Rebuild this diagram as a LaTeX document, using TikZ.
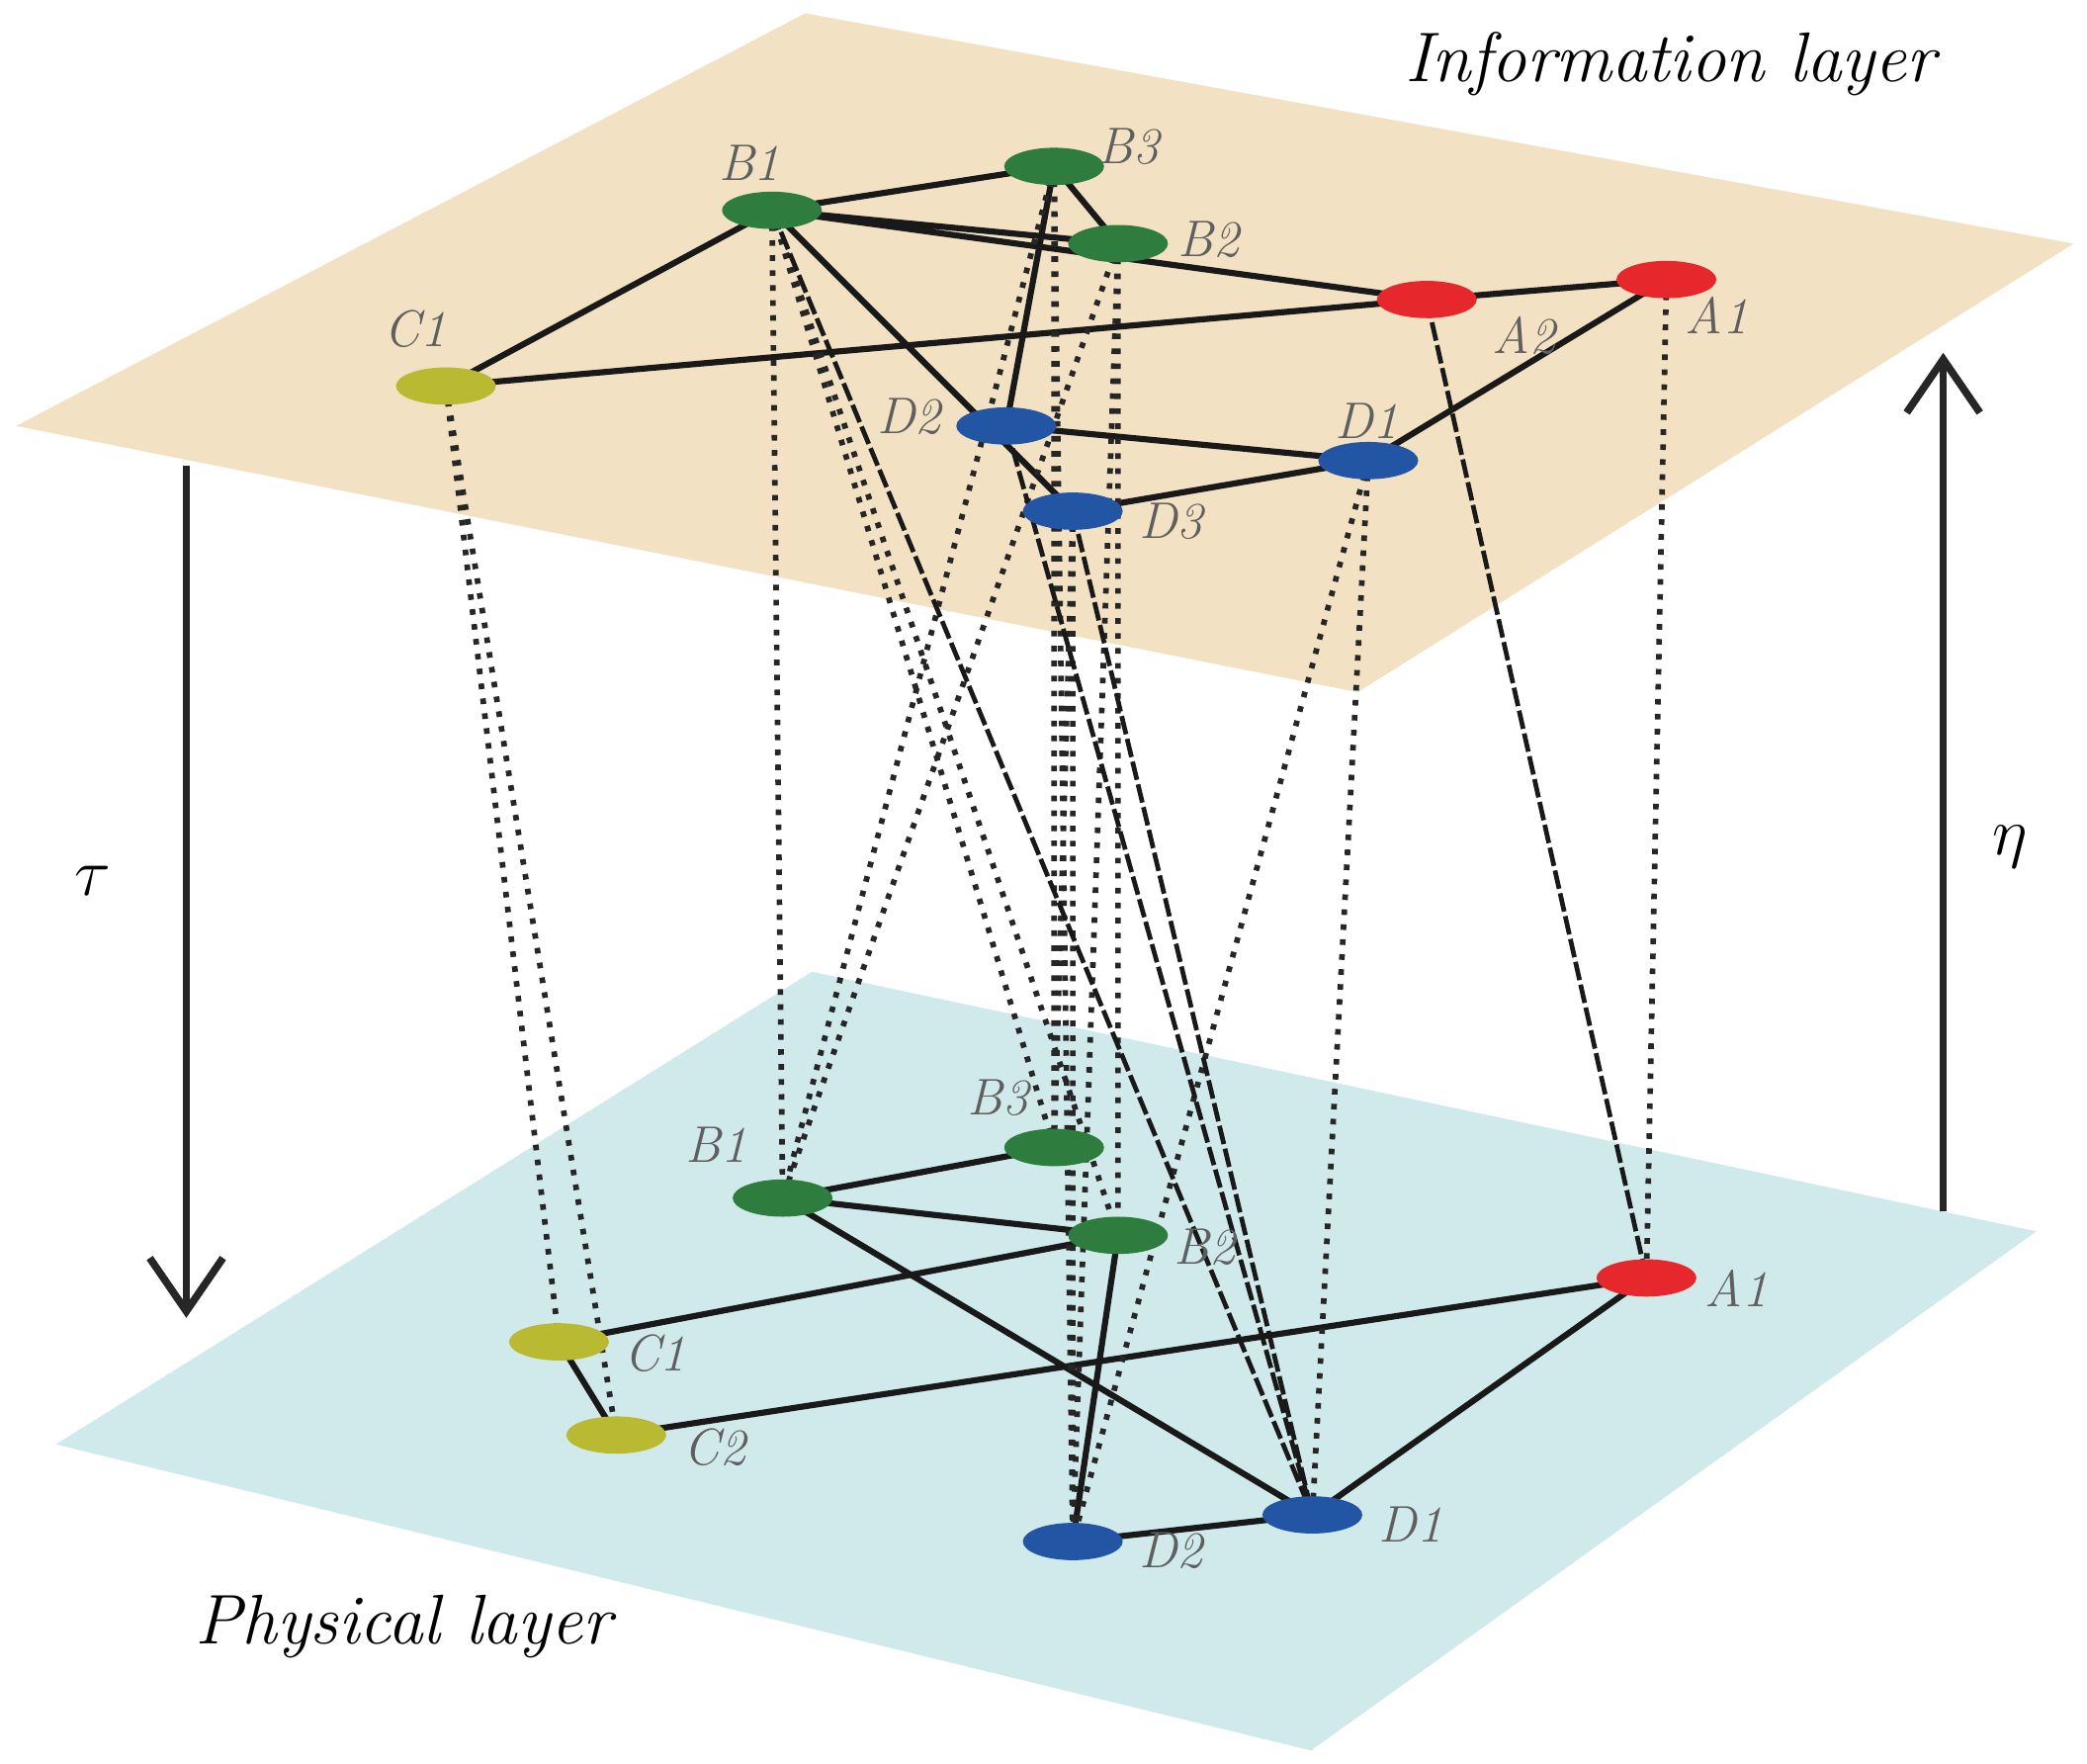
\documentclass[tikz,border=0pt]{standalone}
\usetikzlibrary{shapes.geometric,arrows.meta}
\pgfdeclarelayer{bg}\pgfdeclarelayer{edges}
\pgfsetlayers{bg,edges,main}
\definecolor{ig}{RGB}{242,225,195}
\definecolor{pb}{RGB}{208,234,236}
\definecolor{ng}{RGB}{46,125,62}
\definecolor{nr}{RGB}{230,40,45}
\definecolor{ny}{RGB}{185,185,50}
\definecolor{nb}{RGB}{35,85,165}
\definecolor{lg}{RGB}{95,95,95}
\tikzset{
 nd/.style={ellipse,minimum width=0.75cm,minimum height=0.28cm,inner sep=0pt,fill=#1},
 lb/.style={text=lg,font=\fontsize{11}{12}\selectfont\itshape,inner sep=0pt},
 ed/.style={line width=1.3pt,black!90},
 vd/.style={line width=1.2pt,black!85,dotted},
 ttl/.style={font=\fontsize{15}{17}\selectfont\itshape,inner sep=0pt},
 ar/.style={line width=1.6pt,black!85,-{Straight Barb[length=0.4cm,width=0.55cm,line width=1.6pt]}}
}
\begin{document}
\begin{tikzpicture}[x=0.01cm,y=-0.01cm]
\useasboundingbox (0,0) rectangle (1568,1325);
\begin{pgfonlayer}{bg}
\fill[pb] (610,730) -- (1530,925) -- (985,1315) -- (42,1085) -- cycle;
\end{pgfonlayer}
% info nodes
\node[nd=ng] (iB1) at (580,158) {};
\node[nd=ng] (iB3) at (792,125) {};
\node[nd=ng] (iB2) at (840,183) {};
\node[nd=nr] (iA2) at (1072,225) {};
\node[nd=nr] (iA1) at (1252,210) {};
\node[nd=ny] (iC1) at (335,290) {};
\node[nd=nb] (iD2) at (756,320) {};
\node[nd=nb] (iD1) at (1028,346) {};
\node[nd=nb] (iD3) at (806,384) {};
% phys nodes
\node[nd=ng] (pB1) at (588,900) {};
\node[nd=ng] (pB3) at (792,862) {};
\node[nd=ng] (pB2) at (840,928) {};
\node[nd=nr] (pA1) at (1237,960) {};
\node[nd=ny] (pC1) at (420,1008) {};
\node[nd=ny] (pC2) at (463,1078) {};
\node[nd=nb] (pD2) at (806,1158) {};
\node[nd=nb] (pD1) at (986,1138) {};
% labels
\node[lb] (l1) at (563,122) {B1};
\node[lb] (l2) at (848,110) {B3};
\node[lb] (l3) at (908,180) {B2};
\node[lb] (l4) at (1145,252) {A2};
\node[lb] (l5) at (1290,237) {A1};
\node[lb] (l6) at (312,247) {C1};
\node[lb] (l7) at (683,313) {D2};
\node[lb] (l8) at (1027,316) {D1};
\node[lb] (l9) at (880,392) {D3};
\node[lb] (m1) at (538,860) {B1};
\node[lb] (m2) at (750,825) {B3};
\node[lb] (m3) at (905,937) {B2};
\node[lb] (m4) at (1305,968) {A1};
\node[lb] (m5) at (492,1017) {C1};
\node[lb] (m6) at (537,1087) {C2};
\node[lb] (m7) at (880,1165) {D2};
\node[lb] (m8) at (1060,1145) {D1};
\node[ttl] (t1) at (1255,48) {Information layer};
\node[ttl] (t2) at (303,1222) {Physical layer};
\node[ttl] (tau) at (70,662) {$\tau$};
\node[ttl] (eta) at (1510,636) {$\eta$};
\coordinate (a1) at (140,350); \coordinate (a2) at (140,990);
\coordinate (b1) at (1460,910); \coordinate (b2) at (1460,265);
\draw[ar] (a1) -- (a2);
\draw[ar] (b1) -- (b2);
\begin{pgfonlayer}{edges}
% physical edges
\draw[ed] (pB1.center)--(pB3.center) (pB1.center)--(pB2.center) (pB1.center)--(pD1.center)
 (pC1.center)--(pB2.center) (pC1.center)--(pC2.center) (pC2.center)--(pA1.center)
 (pA1.center)--(pD1.center) (pD1.center)--(pD2.center) (pB2.center)--(pD2.center);
% inter-layer
\draw[vd] (iC1.center)--(pC1.center) (iC1.center)--(pC2.center)
 (iB1.center)--(pB1.center) (iB1.center)--(pB2.center) (iB1.center)--(pB3.center)
 (iB3.center)--(pB1.center) (iB3.center)--(pD2.center) (iB3.center)--(pB3.center)
 (iB2.center)--(pB1.center) (iB2.center)--(pB2.center) (iB2.center)--(pD2.center)
 (iD3.center)--(pD2.center) (iD3.center)--(pB3.center)
 (iD1.center)--(pD2.center) (iD1.center)--(pD1.center)
 (iA1.center)--(pA1.center);
\draw[ed,line width=1pt,dashed,dash pattern=on 4pt off 1pt] (iA2.center)--(pA1.center)
 (iB1.center)--(pD1.center) (iD2.center)--(pD1.center) (iD3.center)--(pD1.center);
\end{pgfonlayer}
\begin{pgfonlayer}{bg}
\fill[ig] (605,10) -- (1558,183) -- (1020,520) -- (12,320) -- cycle;
\draw[ed] (iB1.center)--(iB3.center) (iB1.center)--(iB2.center) (iB1.center)--(iA2.center)
 (iB3.center)--(iB2.center) (iC1.center)--(iB1.center) (iC1.center)--(iA2.center)
 (iA2.center)--(iA1.center) (iA1.center)--(iD1.center) (iD1.center)--(iD2.center)
 (iD1.center)--(iD3.center) (iB1.center)--(iD3.center) (iB3.center)--(iD2.center);
\end{pgfonlayer}
\end{tikzpicture}
\end{document}
